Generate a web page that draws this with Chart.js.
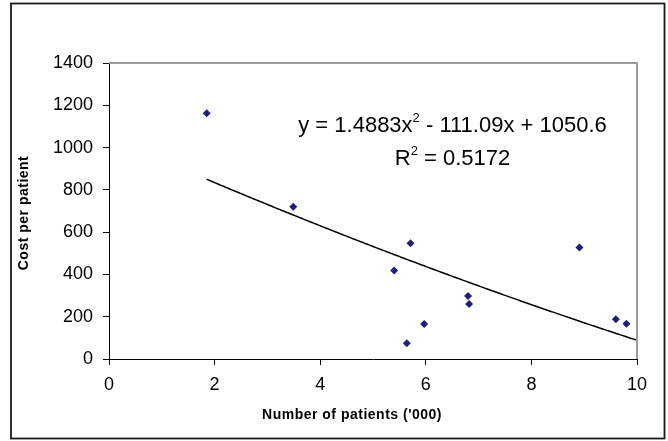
<!DOCTYPE html>
<html>
<head>
<meta charset="utf-8">
<script src="https://cdn.jsdelivr.net/npm/chart.js@4.4.1/dist/chart.umd.min.js"></script>
<style>
  html, body { margin: 0; padding: 0; background: #fff; }
  #wrap { width: 668px; height: 441px; }
</style>
</head>
<body>
<div id="wrap"><canvas id="c" width="668" height="441"></canvas></div>
<script>
// Patients (thousands) and cost per patient for each site
const patientsK      = [1.85, 3.49, 5.40, 5.71, 5.64, 5.97, 6.80, 6.82, 8.91, 9.60, 9.80];
const costPerPatient = [1162, 720, 418, 547, 74, 166, 298, 260, 527, 188, 167];

// Quadratic trendline as stated on the chart: y = a x^2 + b x + c
const trendCoeffs = [1.4883, -111.09, 1050.6];
const rSquared = '0.5172';

const xTicks = [0, 2, 4, 6, 8, 10];
const yTicks = [0, 200, 400, 600, 800, 1000, 1200, 1400];

const xTitle = "Number of patients ('000)";
const yTitle = 'Cost per patient';

const FONT = "'Liberation Sans', Arial, Helvetica, sans-serif";

// Trendline samples from the lowest observed x to the end of the axis
const [ta, tb, tc] = trendCoeffs;
const trendPoints = [];
const xStart = Math.min(...patientsK);
const xEnd = xTicks[xTicks.length - 1];
for (let i = 0; i <= 200; i++) {
  const x = xStart + (xEnd - xStart) * i / 200;
  trendPoints.push({ x, y: ta * x * x + tb * x + tc });
}

const points = patientsK.map((x, i) => ({ x, y: costPerPatient[i] }));

// Frame around the whole figure, grey plot edges, axis titles and the fit equation
const decorations = {
  id: 'decorations',
  afterDraw(chart) {
    const { ctx, chartArea: a } = chart;
    ctx.save();
    // grey top and right edges of the plot
    ctx.strokeStyle = '#9a9a9a';
    ctx.lineWidth = 2;
    ctx.beginPath();
    ctx.moveTo(a.left, a.top);
    ctx.lineTo(a.right, a.top);
    ctx.lineTo(a.right, a.bottom);
    ctx.stroke();

    // outer frame
    ctx.strokeStyle = '#1a1a1a';
    ctx.lineWidth = 1.8;
    ctx.strokeRect(11, 3.5, 653.5, 435);

    // axis titles
    ctx.fillStyle = '#000';
    ctx.font = `bold 14px ${FONT}`;
    if ('letterSpacing' in ctx) ctx.letterSpacing = '0.5px';
    ctx.textAlign = 'center';
    ctx.textBaseline = 'middle';
    ctx.fillText(xTitle, 352, 415);
    ctx.save();
    ctx.translate(24, 213);
    ctx.rotate(-Math.PI / 2);
    ctx.fillText(yTitle, 0, 0);
    ctx.restore();
    if ('letterSpacing' in ctx) ctx.letterSpacing = '0px';

    // equation text with superscripts
    const big = `22px ${FONT}`;
    const small = `13px ${FONT}`;
    const sign = tb < 0 ? '-' : '+';
    const line1 = [
      [`y = ${ta}x`, big, 0],
      ['2', small, -10],
      [` ${sign} ${Math.abs(tb)}x + ${tc}`, big, 0]
    ];
    const line2 = [
      ['R', big, 0],
      ['2', small, -10],
      [` = ${rSquared}`, big, 0]
    ];
    const drawLine = (parts, cx, baseY) => {
      let total = 0;
      parts.forEach(([t, f]) => { ctx.font = f; total += ctx.measureText(t).width; });
      let x = cx - total / 2;
      ctx.fillStyle = '#000';
      ctx.textBaseline = 'alphabetic';
      ctx.textAlign = 'left';
      parts.forEach(([t, f, dy]) => {
        ctx.font = f;
        ctx.fillText(t, x, baseY + dy);
        x += ctx.measureText(t).width;
      });
    };
    drawLine(line1, 452.5, 132);
    drawLine(line2, 452.5, 165);
    ctx.restore();
  }
};

new Chart(document.getElementById('c'), {
  type: 'scatter',
  data: {
    datasets: [
      {
        label: 'Cost per patient',
        data: points,
        pointStyle: 'rectRot',
        pointRadius: 4,
        pointHoverRadius: 4,
        backgroundColor: '#1f1f78',
        borderColor: '#1f1f78',
        borderWidth: 0,
        order: 1
      },
      {
        label: 'Poly. fit',
        data: trendPoints,
        showLine: true,
        pointRadius: 0,
        borderColor: '#000',
        borderWidth: 1.5,
        fill: false,
        tension: 0,
        order: 2
      }
    ]
  },
  options: {
    responsive: false,
    animation: false,
    devicePixelRatio: 1,
    events: [],
    layout: { padding: { left: 0, top: 63, right: 31, bottom: 0 } },
    plugins: {
      legend: { display: false },
      tooltip: { enabled: false }
    },
    scales: {
      x: {
        type: 'linear',
        min: xTicks[0],
        max: xTicks[xTicks.length - 1],
        afterBuildTicks(scale) { scale.ticks = xTicks.map(v => ({ value: v })); },
        afterFit(scale) { scale.height = 82; },
        border: { color: '#000', width: 1 },
        grid: { drawOnChartArea: false, color: '#000', tickLength: 6, lineWidth: 1 },
        ticks: {
          color: '#000', padding: 9,
          font: { family: FONT, size: 18 },
          callback: v => String(v)
        },
        title: { display: false }
      },
      y: {
        type: 'linear',
        min: yTicks[0],
        max: yTicks[yTicks.length - 1],
        afterBuildTicks(scale) { scale.ticks = yTicks.map(v => ({ value: v })); },
        afterFit(scale) { scale.width = 109; },
        border: { color: '#000', width: 1 },
        grid: { drawOnChartArea: false, color: '#000', tickLength: 6, lineWidth: 1 },
        ticks: {
          color: '#000', padding: 10,
          font: { family: FONT, size: 18 },
          callback: v => String(v)
        },
        title: { display: false }
      }
    }
  },
  plugins: [decorations]
});
</script>
</body>
</html>
